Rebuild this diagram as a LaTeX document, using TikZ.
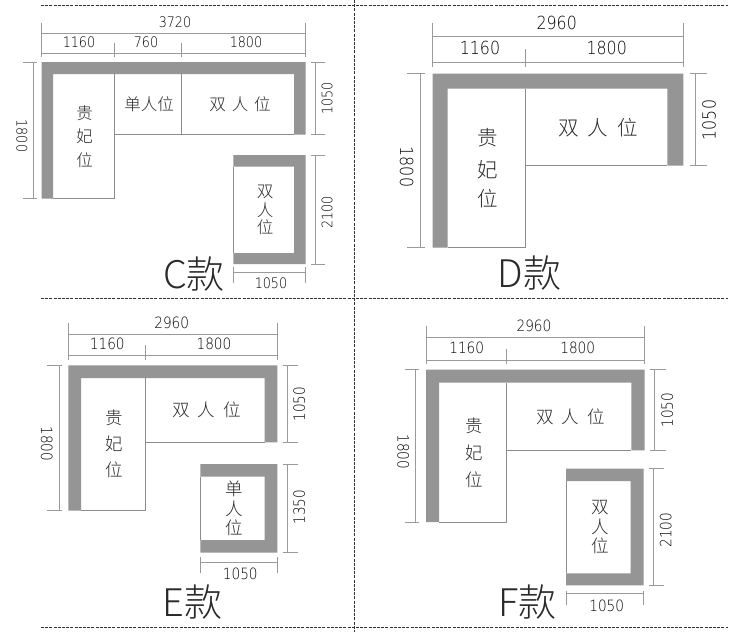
\documentclass[tikz,border=0pt]{standalone}
\usepackage{fontspec}
\setmainfont{Noto Sans CJK SC Light}
\newfontfamily\numf[FakeStretch=0.88]{DejaVu Sans ExtraLight}
\definecolor{sofa}{HTML}{959595}
\definecolor{dimc}{HTML}{9A9A9A}
\definecolor{seatc}{HTML}{8C8C8C}
\definecolor{inkc}{HTML}{2A2A2A}
\tikzset{
  sofa/.style={fill=sofa,draw=none},
  seat/.style={draw=seatc,line width=0.8pt},
  dimline/.style={draw=dimc,line width=0.9pt},
  cut/.style={draw=black!80,line width=0.8pt,dash pattern=on 3pt off 1.2pt},
  lab/.style={text=inkc,inner sep=0pt,anchor=center},
  numS/.style={lab,text=black,font=\numf\fontsize{14.5}{15}\selectfont},
  numM/.style={lab,text=black,font=\numf\fontsize{15.5}{16}\selectfont},
  numL/.style={lab,text=black,font=\numf\fontsize{18}{19}\selectfont},
  hanS/.style={lab,font=\fontsize{16.5}{17}\selectfont},
  hanM/.style={lab,font=\fontsize{17.5}{18}\selectfont},
  hanL/.style={lab,font=\fontsize{20.5}{21}\selectfont},
  big/.style={lab,font=\fontsize{38}{40}\selectfont},
}
\begin{document}
\begin{tikzpicture}[x=1pt,y=-1pt]
\useasboundingbox (0,0) rectangle (750,632);
\fill[white] (0,0) rectangle (750,632);
% ---- cut lines
\draw[cut] (41,5.7) -- (728,5.7);
\draw[cut] (41,298.3) -- (728,298.3);
\draw[cut] (41,627.5) -- (728,627.5);
\draw[cut] (354.8,0) -- (354.8,632);

% ---- C
\fill[sofa] (41.7,62) -- (305.7,62) -- (305.7,134.5) -- (294,134.5) -- (294,74) -- (53,74) -- (53,198.5) -- (41.7,198.5) -- cycle;
\draw[seat] (53,198.5) -- (114,198.5) -- (114,74) (114,134.5) -- (294,134.5) (181.5,74) -- (181.5,134.5);
\fill[sofa] (233.3,155) -- (305.7,155) -- (305.7,264) -- (233.3,264) -- (233.3,253) -- (294,253) -- (294,166.5) -- (233.3,166.5) -- cycle;
\draw[seat] (233.3,166.5) -- (233.3,253);
\draw[dimline] (41.7,23) -- (41.7,57) (305.3,23) -- (305.3,57) (41.7,33.3) -- (305.3,33.3) (41.7,53.5) -- (305.3,53.5) (114,43) -- (114,57) (181.5,43) -- (181.5,57);
\draw[dimline] (23,62) -- (37,62) (23,198.5) -- (37,198.5) (33,62) -- (33,198.5);
\draw[dimline] (311,62) -- (325,62) (311,134.5) -- (325,134.5) (315,62) -- (315,134.5);
\draw[dimline] (311,155) -- (325,155) (311,264) -- (325,264) (315,155) -- (315,264);
\draw[dimline] (233.3,267) -- (233.3,283) (305.3,267) -- (305.3,283) (233.3,272.7) -- (305.3,272.7);
\node[numS] (c1) at (175,22) {3720};
\node[numS] (c2) at (79,42) {1160};
\node[numS] (c3) at (146,42) {760};
\node[numS] (c4) at (246,42) {1800};
\node[numS,rotate=-90] (c5) at (22,136) {1800};
\node[numS,rotate=90] (c6) at (327,98.5) {1050};
\node[numS,rotate=90] (c7) at (327,212.5) {2100};
\node[numS] (c8) at (271,283.5) {1050};
\node[hanS] (c9) at (149,104) {单人位};
\node[hanS] (c10) at (240,104) {双\hspace{0.35em}人\hspace{0.35em}位};
\node[hanS] (c11) at (84.5,113) {贵};
\node[hanS] (c12) at (84.5,136.5) {妃};
\node[hanS] (c13) at (84.5,160.5) {位};
\node[hanS] (c14) at (265,192) {双};
\node[hanS] (c15) at (265,210) {人};
\node[hanS] (c16) at (265,227) {位};
\node[big] (c17) at (194,274.5) {C款};

% ---- D
\fill[sofa] (432.7,73.7) -- (683.3,73.7) -- (683.3,165.7) -- (667.3,165.7) -- (667.3,88.7) -- (447.7,88.7) -- (447.7,247.7) -- (432.7,247.7) -- cycle;
\draw[seat] (447.7,247.7) -- (525.3,247.7) -- (525.3,88.7) (525.3,165.7) -- (667.3,165.7);
\draw[dimline] (432.9,23.3) -- (432.9,67) (683,23.3) -- (683,67) (432.9,36.7) -- (683,36.7) (432.9,62) -- (683,62) (525,49) -- (525,67);
\draw[dimline] (407.3,73.7) -- (425,73.7) (407.3,247.7) -- (425,247.7) (420.3,73.7) -- (420.3,247.7);
\draw[dimline] (690,73.7) -- (707,73.7) (690,165.7) -- (707,165.7) (695,73.7) -- (695,165.7);
\node[numL] (d1) at (556.7,23.3) {2960};
\node[numL] (d2) at (480,48.3) {1160};
\node[numL] (d3) at (606.7,48.3) {1800};
\node[numL,rotate=-90] (d4) at (406.7,167) {1800};
\node[numL,rotate=90] (d5) at (709,120) {1050};
\node[hanL] (d6) at (598,127.7) {双\hspace{0.45em}人\hspace{0.45em}位};
\node[hanL] (d7) at (487.7,138) {贵};
\node[hanL] (d8) at (487.7,170) {妃};
\node[hanL] (d9) at (487.7,199) {位};
\node[big] (d10) at (529.5,273) {D款};

% ---- E
\fill[sofa] (68.3,365.3) -- (277.3,365.3) -- (277.3,442.3) -- (264.7,442.3) -- (264.7,378) -- (81,378) -- (81,510.7) -- (68.3,510.7) -- cycle;
\draw[seat] (81,510.7) -- (145.3,510.7) -- (145.3,378) (145.3,442.3) -- (264.7,442.3);
\fill[sofa] (200.3,464) -- (277.3,464) -- (277.3,552.7) -- (200.3,552.7) -- (200.3,540) -- (264.7,540) -- (264.7,476.7) -- (200.3,476.7) -- cycle;
\draw[seat] (200.3,476.7) -- (200.3,540);
\draw[dimline] (68.5,323.3) -- (68.5,360) (277,323.3) -- (277,360) (68.5,334) -- (277,334) (68.5,355.7) -- (277,355.7) (145.3,345) -- (145.3,360);
\draw[dimline] (47.3,365.3) -- (62,365.3) (47.3,510.7) -- (62,510.7) (59.3,365.3) -- (59.3,510.7);
\draw[dimline] (282.7,365.3) -- (297.7,365.3) (282.7,442.3) -- (297.7,442.3) (287,365.3) -- (287,442.3);
\draw[dimline] (282.7,464) -- (297.7,464) (282.7,552.7) -- (297.7,552.7) (287,464) -- (287,552.7);
\draw[dimline] (200.3,557) -- (200.3,572.7) (277,557) -- (277,572.7) (200.3,562.3) -- (277,562.3);
\node[numM] (e1) at (171.7,323) {2960};
\node[numM] (e2) at (107.3,344) {1160};
\node[numM] (e3) at (214,344) {1800};
\node[numM,rotate=-90] (e4) at (46.7,444) {1800};
\node[numM,rotate=90] (e5) at (299.3,404) {1050};
\node[numM,rotate=90] (e6) at (299.3,507.3) {1350};
\node[numM] (e7) at (240.3,574) {1050};
\node[hanM] (e8) at (206.7,410.3) {双\hspace{0.45em}人\hspace{0.45em}位};
\node[hanM] (e9) at (114.3,418) {贵};
\node[hanM] (e10) at (114.3,444) {妃};
\node[hanM] (e11) at (114.3,470) {位};
\node[hanM] (e12) at (234.3,489) {单};
\node[hanM] (e13) at (234.3,509.3) {人};
\node[hanM] (e14) at (234.3,528) {位};
\node[big] (e15) at (192.7,601.7) {E款};

% ---- F
\fill[sofa] (426,369.7) -- (644.7,369.7) -- (644.7,450.3) -- (631.3,450.3) -- (631.3,382.7) -- (439,382.7) -- (439,522) -- (426,522) -- cycle;
\draw[seat] (439,522) -- (506.7,522) -- (506.7,382.7) (506.7,450.3) -- (631.3,450.3);
\fill[sofa] (566,468.7) -- (643.7,468.7) -- (643.7,585.3) -- (566,585.3) -- (566,573.3) -- (630.7,573.3) -- (630.7,481) -- (566,481) -- cycle;
\draw[seat] (566.3,481) -- (566.3,573.3);
\draw[dimline] (426.2,326) -- (426.2,364) (644.5,326) -- (644.5,364) (426.2,337.3) -- (644.5,337.3) (426.2,360.3) -- (644.5,360.3) (506.7,348.7) -- (506.7,364);
\draw[dimline] (404.7,369.7) -- (419.3,369.7) (404.7,522) -- (419.3,522) (415,369.7) -- (415,522);
\draw[dimline] (650,369.7) -- (665.7,369.7) (650,450.3) -- (665.7,450.3) (654.7,369.7) -- (654.7,450.3);
\draw[dimline] (649,468.7) -- (664,468.7) (649,585.3) -- (664,585.3) (653.3,468.7) -- (653.3,585.3);
\draw[dimline] (566,590.7) -- (566,605) (643.5,590.7) -- (643.5,605) (566,593.7) -- (643.5,593.7);
\node[numM] (f1) at (534,326) {2960};
\node[numM] (f2) at (466.7,347.7) {1160};
\node[numM] (f3) at (577.7,347.7) {1800};
\node[numM,rotate=-90] (f4) at (403.3,452) {1800};
\node[numM,rotate=90] (f5) at (667.3,410) {1050};
\node[numM,rotate=90] (f6) at (665.7,530) {2100};
\node[numM] (f7) at (606.7,606) {1050};
\node[hanM] (f8) at (570.7,416.7) {双\hspace{0.45em}人\hspace{0.45em}位};
\node[hanM] (f9) at (474,426) {贵};
\node[hanM] (f10) at (474,453.3) {妃};
\node[hanM] (f11) at (474,480) {位};
\node[hanM] (f12) at (600.7,507.3) {双};
\node[hanM] (f13) at (600.7,526.7) {人};
\node[hanM] (f14) at (600.7,545.7) {位};
\node[big] (f15) at (527.3,601.7) {F款};
\end{tikzpicture}
\end{document}
